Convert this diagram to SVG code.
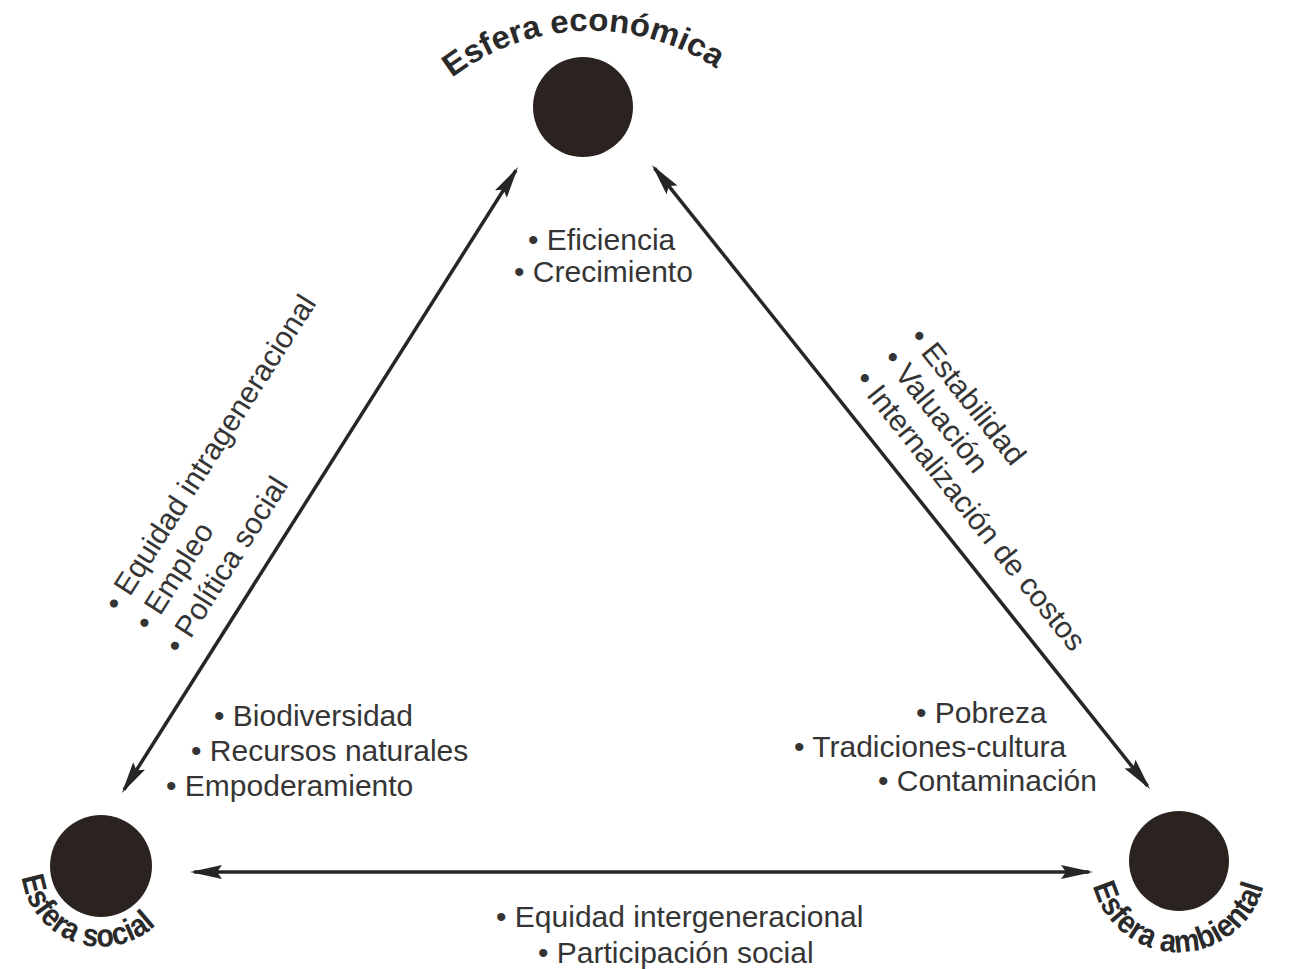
<svg xmlns="http://www.w3.org/2000/svg" width="1293" height="969" viewBox="0 0 1293 969">
<style>
.item{font-family:"Liberation Sans",Arial,sans-serif;font-size:30px;fill:#353535;}
.title{font-family:"Liberation Sans",Arial,sans-serif;font-size:32px;font-weight:bold;fill:#2a2a2a;}
.sphere{fill:#2b2320;}
.conn{stroke:#262626;stroke-width:3.5;fill:none;marker-start:url(#ah);marker-end:url(#ah);}
</style>
<defs>
<marker id="ah" viewBox="0 -8 32 16" refX="28" refY="0" markerWidth="32" markerHeight="16" markerUnits="userSpaceOnUse" orient="auto-start-reverse">
<path d="M32,0 L0,-7 L5,0 L0,7 Z" fill="#262626"/>
</marker>
<path id="arcTop" d="M 452,78 A 227 227 0 0 1 721,72"/>
<path id="arcSocial" d="M 21.8,877.1 A 80 80 0 0 0 159,922"/>
<path id="arcAmb" d="M 1093,886 A 88 88 0 0 0 1265,879"/>
</defs>
<rect width="1293" height="969" fill="#ffffff"/>

<g id="connectors">
<line class="conn" x1="515.9" y1="170.4" x2="124.1" y2="789.6"/>
<line class="conn" x1="654.5" y1="168.1" x2="1147.5" y2="785.9"/>
<line class="conn" x1="194" y1="872" x2="1089" y2="872"/>
</g>

<g id="node-economica">
<circle class="sphere" cx="583" cy="107" r="50"/>
<text class="title"><textPath href="#arcTop" textLength="282" lengthAdjust="spacingAndGlyphs">Esfera económica</textPath></text>
</g>

<g id="node-social">
<circle class="sphere" cx="101" cy="866" r="51"/>
<text class="title"><textPath href="#arcSocial" textLength="176" lengthAdjust="spacingAndGlyphs">Esfera social</textPath></text>
</g>

<g id="node-ambiental">
<circle class="sphere" cx="1179" cy="861" r="50"/>
<text class="title"><textPath href="#arcAmb" textLength="232" lengthAdjust="spacingAndGlyphs">Esfera ambiental</textPath></text>
</g>

<g id="labels-economica">
<text class="item" x="528" y="250">• Eficiencia</text>
<text class="item" x="514" y="282">• Crecimiento</text>
</g>

<g id="labels-social">
<text class="item" x="214" y="726">• Biodiversidad</text>
<text class="item" x="191" y="761">• Recursos naturales</text>
<text class="item" x="166" y="796">• Empoderamiento</text>
</g>

<g id="labels-ambiental">
<text class="item" x="916" y="723">• Pobreza</text>
<text class="item" x="794" y="757">• Tradiciones-cultura</text>
<text class="item" x="878" y="791">• Contaminación</text>
</g>

<g id="labels-social-economica" transform="translate(113,603) rotate(-57.5)">
<text class="item" x="-5" y="11">• Equidad intrageneracional</text>
<text class="item" x="-5" y="47">• Empleo</text>
<text class="item" x="-8" y="85">• Política social</text>
</g>

<g id="labels-economica-ambiental" transform="translate(920,335) rotate(51.4)">
<text class="item" x="-5" y="11">• Estabilidad</text>
<text class="item" x="-5" y="45">• Valuación</text>
<text class="item" x="-6" y="80">• Internalización de costos</text>
</g>

<g id="labels-social-ambiental">
<text class="item" x="496" y="927">• Equidad intergeneracional</text>
<text class="item" x="538" y="963">• Participación social</text>
</g>
</svg>
